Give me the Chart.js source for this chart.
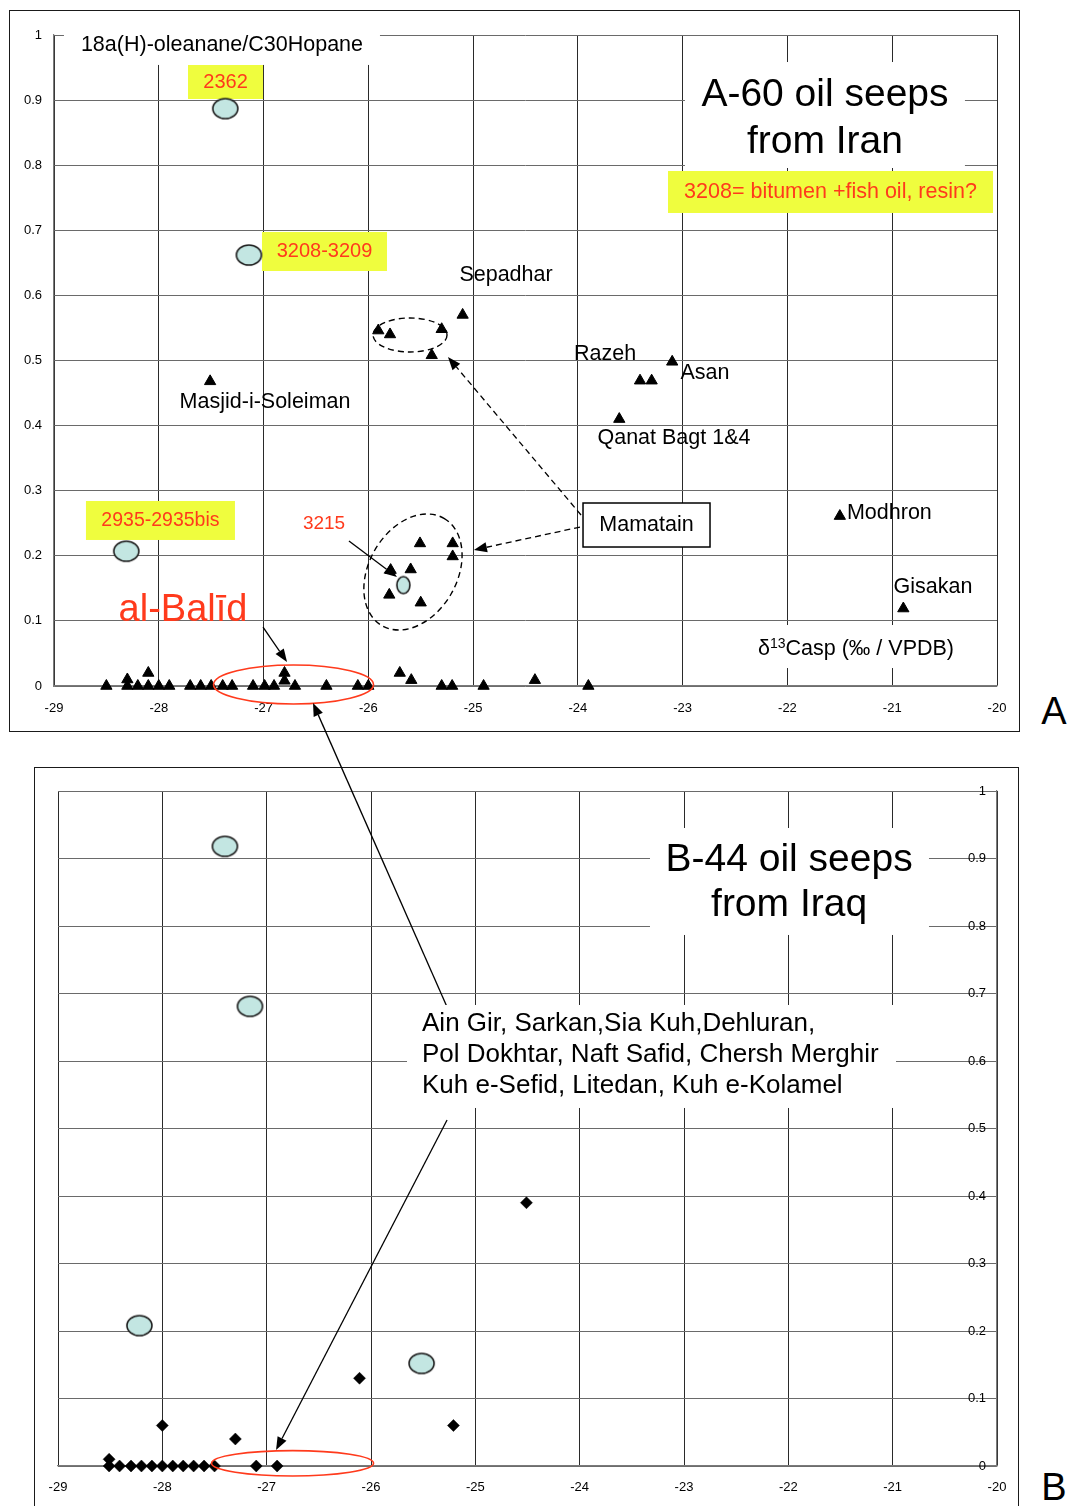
<!DOCTYPE html>
<html>
<head>
<meta charset="utf-8">
<script src="https://cdn.jsdelivr.net/npm/chart.js@4.4.0/dist/chart.umd.min.js"></script>
<style>
  html, body { margin: 0; padding: 0; background: #fff; }
  #page { position: relative; width: 1067px; height: 1506px; overflow: hidden;
          font-family: "Liberation Sans", Arial, sans-serif; }
  .frame { position: absolute; border: 1.5px solid #1a1a1a; box-sizing: border-box; }
  .panel { position: absolute; width: 30px; text-align: center; font-size: 38px; line-height: 38px; color: #000; }
  canvas { position: absolute; left: 0; top: 0; }
</style>
</head>
<body>
<div id="page">
  <div class="frame" style="left:9px;top:10px;width:1011px;height:722px"></div>
  <div class="frame" style="left:34px;top:767px;width:985px;height:780px"></div>
  <div class="panel" style="left:1039px;top:692px">A</div>
  <div class="panel" style="left:1039px;top:1468px">B</div>
  <canvas id="chartA" width="1067" height="1506"></canvas>
  <canvas id="chartB" width="1067" height="1506"></canvas>
</div>
<script>
// Axis tick labels shared by both panels
const xTickLabels = ['-29', '-28', '-27', '-26', '-25', '-24', '-23', '-22', '-21', '-20'];
const yTickLabels = ['0', '0.1', '0.2', '0.3', '0.4', '0.5', '0.6', '0.7', '0.8', '0.9', '1'];

// Panel A: oil seeps from Iran (triangles), d13C vs oleanane/hopane
const seepIranX = [
  -27.51,
  -25.905, -25.793, -25.30, -25.10, -25.395,
  -23.10, -23.407, -23.296, -23.605,
  -21.50, -20.894,
  -25.507, -25.195, -25.195, -25.596, -25.787, -25.80, -25.50,
  -28.50, -28.30, -28.30, -28.20, -28.10, -28.10, -28.00, -27.90, -27.70, -27.60,
  -27.50, -27.39, -27.30, -27.10, -26.99, -26.90, -26.80, -26.80, -26.70, -26.40,
  -26.10, -26.00, -25.70, -25.59, -25.30, -25.20, -24.90, -24.41, -23.90
];
const seepIranY = [
  0.468,
  0.546, 0.540, 0.548, 0.570, 0.508,
  0.498, 0.469, 0.469, 0.410,
  0.261, 0.119,
  0.219, 0.219, 0.199, 0.179, 0.178, 0.140, 0.128,
  0, 0, 0.01, 0, 0, 0.02, 0, 0, 0, 0,
  0, 0, 0, 0, 0, 0, 0.008, 0.02, 0, 0,
  0, 0, 0.02, 0.009, 0, 0, 0, 0.009, 0
];
// Archaeological samples 2362, 3208-3209, 2935-2935bis, 3215
const sampleAX = [-27.365, -27.14, -28.31, -25.666];
const sampleAY = [0.887, 0.662, 0.207, 0.155];

// Panel B: oil seeps from Iraq (diamonds) and the same samples
const seepIraqX = [
  -28.51, -28.51, -28.41, -28.30, -28.20, -28.10, -28.00, -28.00, -27.90, -27.80,
  -27.70, -27.60, -27.50, -27.30, -27.10, -26.90, -26.11, -25.21, -24.51
];
const seepIraqY = [
  0, 0.01, 0, 0, 0, 0, 0, 0.06, 0, 0,
  0, 0, 0, 0.04, 0, 0, 0.13, 0.06, 0.39
];
const sampleBX = [-27.40, -27.16, -28.22, -25.515];
const sampleBY = [0.918, 0.681, 0.208, 0.152];

const FONT = '"Liberation Sans", Arial, sans-serif';
Chart.defaults.font.family = FONT;
Chart.defaults.color = '#000';

const RED = '#ff3a1c';
const YELLOW = '#effd3e';

// Pale cyan oval used for the archaeological samples
function ovalSprite(w, h) {
  const c = document.createElement('canvas');
  c.width = w + 4; c.height = h + 4;
  const g = c.getContext('2d');
  g.beginPath();
  g.ellipse(c.width / 2, c.height / 2, w / 2, h / 2, 0, 0, Math.PI * 2);
  g.fillStyle = '#c3e6e2';
  g.fill();
  g.lineWidth = 1.6;
  g.strokeStyle = '#1a1a1a';
  g.stroke();
  return c;
}
const bigOval = ovalSprite(25, 20);
const smallOval = ovalSprite(13, 17);

function pts(xs, ys) { return xs.map((x, i) => ({ x: x, y: ys[i] })); }

function P(chart, x, y) {
  return [chart.scales.x.getPixelForValue(x), chart.scales.y.getPixelForValue(y)];
}

function drawBox(ctx, a, b, fill, stroke) {
  const x = Math.min(a[0], b[0]), y = Math.min(a[1], b[1]);
  const w = Math.abs(b[0] - a[0]), h = Math.abs(b[1] - a[1]);
  ctx.fillStyle = fill;
  ctx.fillRect(x, y, w, h);
  if (stroke) {
    ctx.lineWidth = 1.5;
    ctx.strokeStyle = stroke;
    ctx.strokeRect(x, y, w, h);
  }
}

function drawText(ctx, s, p, size, color, align) {
  ctx.font = size + 'px ' + FONT;
  ctx.fillStyle = color;
  ctx.textAlign = align || 'center';
  ctx.textBaseline = 'middle';
  ctx.fillText(s, p[0], p[1]);
}

function drawArrow(ctx, a, b, dashed) {
  const ang = Math.atan2(b[1] - a[1], b[0] - a[0]);
  const L = 13, W = 5;
  const bx = b[0] - L * Math.cos(ang), by = b[1] - L * Math.sin(ang);
  ctx.save();
  ctx.strokeStyle = '#000';
  ctx.fillStyle = '#000';
  ctx.lineWidth = 1.3;
  ctx.setLineDash(dashed ? [6, 4] : []);
  ctx.beginPath();
  ctx.moveTo(a[0], a[1]);
  ctx.lineTo(bx, by);
  ctx.stroke();
  ctx.setLineDash([]);
  ctx.beginPath();
  ctx.moveTo(b[0], b[1]);
  ctx.lineTo(bx + W * Math.sin(ang), by - W * Math.cos(ang));
  ctx.lineTo(bx - W * Math.sin(ang), by + W * Math.cos(ang));
  ctx.closePath();
  ctx.fill();
  ctx.restore();
}

function drawOval(ctx, c, rx, ry, rot, color, dashed) {
  ctx.save();
  ctx.strokeStyle = color;
  ctx.lineWidth = dashed ? 1.4 : 1.6;
  ctx.setLineDash(dashed ? [6, 4] : []);
  ctx.beginPath();
  ctx.ellipse(c[0], c[1], rx, ry, rot, 0, Math.PI * 2);
  ctx.stroke();
  ctx.restore();
}

function xAxis(padding) {
  return {
    type: 'linear', min: -29, max: -20,
    afterBuildTicks: s => { s.ticks = xTickLabels.map(t => ({ value: Number(t) })); },
    afterFit: s => { s.height = 40; },
    ticks: { callback: (v, i) => xTickLabels[i], padding: padding, font: { size: 13 },
             color: '#000', maxRotation: 0, autoSkip: false },
    grid: { color: '#2a2a2a', lineWidth: 1, drawTicks: false },
    border: { color: '#7a7a7a', width: 1.2 }
  };
}

function yAxis(position, width, padding, mirror) {
  return {
    type: 'linear', min: 0, max: 1, position: position,
    afterBuildTicks: s => { s.ticks = yTickLabels.map(t => ({ value: Number(t) })); },
    afterFit: s => { s.width = width; },
    ticks: { callback: (v, i) => yTickLabels[i], padding: padding, mirror: mirror,
             font: { size: 13 }, color: '#000', autoSkip: false },
    grid: { color: '#6a6a6a', lineWidth: 1, drawTicks: false },
    border: { color: '#7a7a7a', width: 1.2 }
  };
}

// Boxes and labels of panel A (under the markers), arrows and rings (over them)
const annotateA = {
  id: 'annotateA',
  beforeDatasetsDraw(chart) {
    const ctx = chart.ctx;
    const p = (x, y) => P(chart, x, y);
    ctx.save();
    drawBox(ctx, p(-28.905, 1.02), p(-25.889, 0.954), '#fff');
    drawText(ctx, '18a(H)-oleanane/C30Hopane', p(-27.397, 0.9846), 21.5, '#000');

    drawBox(ctx, p(-22.978, 0.9585), p(-20.306, 0.7957), '#fff');
    drawText(ctx, 'A-60 oil seeps', p(-21.642, 0.9078), 39, '#000');
    drawText(ctx, 'from Iran', p(-21.642, 0.8356), 39, '#000');

    drawBox(ctx, p(-27.721, 0.9539), p(-27.005, 0.9017), YELLOW);
    drawText(ctx, '2362', p(-27.363, 0.9278), 20, RED);

    drawBox(ctx, p(-23.140, 0.7911), p(-20.038, 0.7266), YELLOW);
    drawText(ctx, '3208= bitumen +fish oil, resin?', p(-21.589, 0.7588), 21.5, RED);

    drawBox(ctx, p(-27.015, 0.6974), p(-25.822, 0.6375), YELLOW);
    drawText(ctx, '3208-3209', p(-26.418, 0.6667), 20, RED);

    drawBox(ctx, p(-28.695, 0.2842), p(-27.273, 0.2243), YELLOW);
    drawText(ctx, '2935-2935bis', p(-27.984, 0.2535), 19.5, RED);

    drawText(ctx, '3215', p(-26.423, 0.2488), 19, RED);
    drawText(ctx, 'al-Balīd', p(-27.769, 0.1167), 38, RED);

    drawText(ctx, 'Sepadhar', p(-24.686, 0.6313), 21.5, '#000');
    drawText(ctx, 'Razeh', p(-23.741, 0.510), 21.5, '#000');
    drawText(ctx, 'Asan', p(-22.787, 0.4808), 21.5, '#000');
    drawText(ctx, 'Masjid-i-Soleiman', p(-26.986, 0.4363), 21.5, '#000');
    drawText(ctx, 'Qanat Bagt 1&4', p(-23.083, 0.381), 21.5, '#000');
    drawText(ctx, 'Modhron', p(-21.432, 0.2657), 21.5, '#000', 'left');
    drawText(ctx, 'Gisakan', p(-20.611, 0.1521), 21.5, '#000');

    drawBox(ctx, p(-23.951, 0.2811), p(-22.739, 0.2135), '#fff', '#000');
    drawText(ctx, 'Mamatain', p(-23.345, 0.2473), 21.5, '#000');

    // axis title with superscript
    drawBox(ctx, p(-22.405, 0.0937), p(-20.210, 0.0276), '#fff');
    const t = p(-22.281, 0.0568);
    ctx.textAlign = 'left';
    ctx.textBaseline = 'middle';
    ctx.fillStyle = '#000';
    ctx.font = '21.5px ' + FONT;
    ctx.fillText('δ', t[0], t[1]);
    let xx = t[0] + ctx.measureText('δ').width;
    ctx.font = '14px ' + FONT;
    ctx.fillText('13', xx, t[1] - 5);
    xx += ctx.measureText('13').width;
    ctx.font = '21.5px ' + FONT;
    ctx.fillText('Casp (‰ / VPDB)', xx, t[1]);
    ctx.restore();
  },
  afterDatasetsDraw(chart) {
    const ctx = chart.ctx;
    const p = (x, y) => P(chart, x, y);
    drawOval(ctx, p(-25.602, 0.5392), 37, 17, 0, '#000', true);
    drawOval(ctx, p(-25.574, 0.1751), 62, 44, -Math.PI / 3, '#000', true);
    drawOval(ctx, p(-26.714, 0.0023), 80, 19.5, 0, RED, false);
    drawArrow(ctx, p(-23.970, 0.2627), p(-25.240, 0.5054), true);
    drawArrow(ctx, p(-23.980, 0.2442), p(-24.992, 0.2089), true);
    drawArrow(ctx, p(-26.185, 0.2227), p(-25.727, 0.1674), false);
    drawArrow(ctx, p(-27.005, 0.0906), p(-26.776, 0.0369), false);
  }
};

const chartA = new Chart(document.getElementById('chartA'), {
  type: 'scatter',
  data: {
    datasets: [
      { label: 'Oil seeps, Iran', data: pts(seepIranX, seepIranY), pointStyle: 'triangle',
        pointRadius: 6.5, backgroundColor: '#000', borderColor: '#000', borderWidth: 1, clip: false },
      { label: 'Samples', data: pts(sampleAX, sampleAY),
        pointStyle: [bigOval, bigOval, bigOval, smallOval], pointRadius: 10, clip: false }
    ]
  },
  options: {
    responsive: false, animation: false, devicePixelRatio: 1, events: [],
    layout: { padding: { left: 0, top: 35, right: 70, bottom: 780 } },
    plugins: { legend: { display: false }, tooltip: { enabled: false } },
    scales: { x: xAxis(15), y: yAxis('left', 54, 12, false) }
  },
  plugins: [annotateA]
});

const annotateB = {
  id: 'annotateB',
  beforeDatasetsDraw(chart) {
    const ctx = chart.ctx;
    const p = (x, y) => P(chart, x, y);
    ctx.save();
    drawBox(ctx, p(-23.326, 0.9452), p(-20.652, 0.7867), '#fff');
    drawText(ctx, 'B-44 oil seeps', p(-21.993, 0.8978), 39, '#000');
    drawText(ctx, 'from Iraq', p(-21.993, 0.8312), 39, '#000');
    ctx.restore();
  },
  afterDatasetsDraw(chart) {
    const ctx = chart.ctx;
    const p = (x, y) => P(chart, x, y);
    drawOval(ctx, p(-26.752, 0.004), 81, 12.7, 0, RED, false);
    drawArrow(ctx, p(-25.271, 0.5126), p(-26.910, 0.0237), false);
    drawArrow(ctx, p(-25.271, 0.68), P(chartA, -26.528, -0.0261), false);
    ctx.save();
    drawBox(ctx, p(-25.655, 0.683), p(-20.968, 0.5304), '#fff');
    drawText(ctx, 'Ain Gir, Sarkan,Sia Kuh,Dehluran,', p(-25.511, 0.6548), 26, '#000', 'left');
    drawText(ctx, 'Pol Dokhtar, Naft Safid, Chersh Merghir', p(-25.511, 0.6089), 26, '#000', 'left');
    drawText(ctx, 'Kuh e-Sefid, Litedan, Kuh e-Kolamel', p(-25.511, 0.563), 26, '#000', 'left');
    ctx.restore();
  }
};

new Chart(document.getElementById('chartB'), {
  type: 'scatter',
  data: {
    datasets: [
      { label: 'Oil seeps, Iraq', data: pts(seepIraqX, seepIraqY), pointStyle: 'rectRot',
        pointRadius: 6, backgroundColor: '#000', borderColor: '#000', borderWidth: 0.5, clip: false },
      { label: 'Samples', data: pts(sampleBX, sampleBY), pointStyle: bigOval, pointRadius: 10, clip: false }
    ]
  },
  options: {
    responsive: false, animation: false, devicePixelRatio: 1, events: [],
    layout: { padding: { left: 58, top: 791, right: 0, bottom: 0 } },
    plugins: { legend: { display: false }, tooltip: { enabled: false } },
    scales: { x: xAxis(14), y: yAxis('right', 70, -11, true) }
  },
  plugins: [annotateB]
});
</script>
</body>
</html>
